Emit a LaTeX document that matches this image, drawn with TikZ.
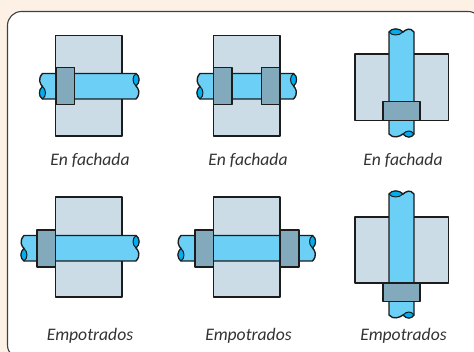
\documentclass[tikz,border=0pt]{standalone}
\usepackage{fontspec}
\setmainfont{Carlito}
\usepackage{xcolor}
\usepackage{tikz}

\definecolor{pagecream}{HTML}{FDF1E6}
\definecolor{platecol}{HTML}{CBDCE6}
\definecolor{pipecol}{HTML}{6BCFF6}
\definecolor{boreol}{HTML}{00AEEF}
\definecolor{collarcol}{HTML}{82A9BC}
\definecolor{inkcol}{HTML}{1C1C1C}

% horizontal pipe: x1, x2, y1, y2
\newcommand{\pipeH}[4]{
	\draw[pipe] (#1+3,#4) .. controls (#1-1,#4-3) and (#1-1,#4-9) .. (#1+3,#4-12.5)
		.. controls (#1+0.5,#4-15) and (#1-2,#4-20) .. (#1+3,#3)
		-- (#2-3,#3) .. controls (#2+1,#3+3) and (#2+1,#3+9) .. (#2-3,#3+12.5)
		.. controls (#2-0.5,#3+15) and (#2+2,#3+20) .. (#2-3,#4) -- cycle;
	\draw[bore] (#1+3,#4) .. controls (#1-1,#4-3) and (#1-1,#4-9) .. (#1+3,#4-12.5)
		.. controls (#1+7,#4-9) and (#1+7,#4-3) .. cycle;
	\draw[bore] (#2-3,#3) .. controls (#2+1,#3+3) and (#2+1,#3+9) .. (#2-3,#3+12.5)
		.. controls (#2-7,#3+9) and (#2-7,#3+3) .. cycle;
}
% vertical pipe: x1, x2, y1, y2
\newcommand{\pipeV}[4]{
	\draw[pipe] (#1,#3+3) .. controls (#1+3,#3-1) and (#1+10,#3-1) .. (#1+14,#3+3)
		.. controls (#1+17,#3+0.5) and (#2-4,#3-2) .. (#2,#3+3)
		-- (#2,#4-3) .. controls (#2-3,#4+1) and (#2-7,#4+1) .. (#2-11,#4-3)
		.. controls (#2-14,#4-0.5) and (#1+4,#4+2) .. (#1,#4-3) -- cycle;
	\draw[bore] (#1,#3+3) .. controls (#1+3,#3-1) and (#1+10,#3-1) .. (#1+14,#3+3)
		.. controls (#1+10,#3+7) and (#1+3,#3+7) .. cycle;
	\draw[bore] (#2,#4-3) .. controls (#2-3,#4+1) and (#2-7,#4+1) .. (#2-11,#4-3)
		.. controls (#2-7,#4-7) and (#2-3,#4-7) .. cycle;
}

\begin{document}
\begin{tikzpicture}[x=1pt,y=-1pt,line join=round,
	pipe/.style={draw=inkcol,fill=pipecol,line width=1.4pt},
	bore/.style={draw=inkcol,fill=boreol,line width=1pt},
	plate/.style={draw=inkcol,fill=platecol,line width=1.2pt},
	collar/.style={draw=inkcol,fill=collarcol,line width=1.2pt},
	caption/.style={text=black!80,font=\fontsize{17.6}{20}\selectfont\itshape,inner sep=0pt}]

	\useasboundingbox (0,0) rectangle (474,352);
	\clip (0,0) rectangle (474,352);

	% The panel
	\fill[pagecream] (0,0) rectangle (474,352);
	\draw[fill=white,draw=black!75,line width=1.1pt,rounded corners=14pt] (7.5,11.5) rectangle (482,359);

	% Upper row
	\draw[plate] (55.5,35.5) rectangle (122,136);
	\pipeH{39.5}{139}{73.5}{99}
	\draw[collar] (56,67.5) rectangle (74.5,104.5);

	\draw[plate] (213.5,35.5) rectangle (280,136);
	\pipeH{197}{296.5}{73.5}{99}
	\draw[collar] (213.5,67.5) rectangle (232,104.5);
	\draw[collar] (261.5,67.5) rectangle (280,104.5);

	\draw[plate] (355,54) rectangle (448.5,120.5);
	\pipeV{389}{414}{29}{137}
	\draw[collar] (383,101.5) rectangle (420,120.5);

	% Lower row
	\draw[plate] (55.5,197) rectangle (122,297);
	\pipeH{21}{139}{235.5}{261}
	\draw[collar] (37,230) rectangle (55.5,267);

	\draw[plate] (213.5,197) rectangle (280,297);
	\pipeH{178}{315.5}{235.5}{261}
	\draw[collar] (195,230) rectangle (213.5,267);
	\draw[collar] (280,230) rectangle (299,267);

	\draw[plate] (355,217) rectangle (448.5,283);
	\pipeV{389}{414}{191}{318}
	\draw[collar] (383,283) rectangle (420,301.5);

	% Captions
	\node[caption] at (90,160) (cap1) {En fachada};
	\node[caption] at (248,160) (cap2) {En fachada};
	\node[caption] at (403,160) (cap3) {En fachada};
	\node[caption] at (90,336) (cap4) {Empotrados};
	\node[caption] at (248.5,336) (cap5) {Empotrados};
	\node[caption] at (403.5,336) (cap6) {Empotrados};

\end{tikzpicture}
\end{document}
